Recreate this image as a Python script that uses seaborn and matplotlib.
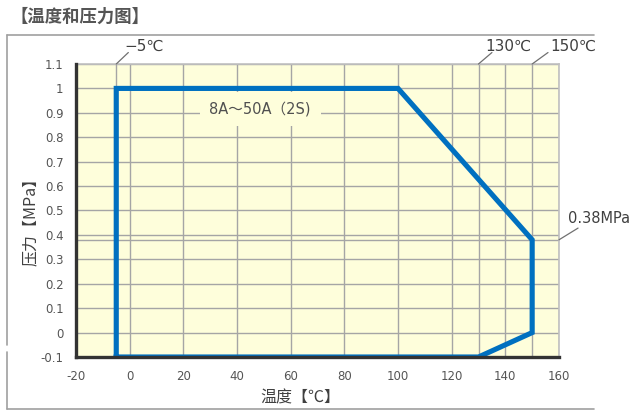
import matplotlib
matplotlib.use("Agg")
import matplotlib.pyplot as plt
from matplotlib.lines import Line2D
import seaborn as sns
import pandas as pd

# ---- data ----
temps = [-5, -5, 100, 150, 150, 130, -5]
pressures = [-0.1, 1.0, 1.0, 0.38, 0.0, -0.1, -0.1]
x_ticks = [-20, 0, 20, 40, 60, 80, 100, 120, 140, 160]
y_ticks = [-0.1, 0, 0.1, 0.2, 0.3, 0.4, 0.5, 0.6, 0.7, 0.8, 0.9, 1.0, 1.1]
y_tick_labels = ["-0.1", "0", "0.1", "0.2", "0.3", "0.4", "0.5", "0.6", "0.7",
                 "0.8", "0.9", "1", "1.1"]
x_tick_labels = [str(v) for v in x_ticks]
extra_vlines = [-5, 130, 150]
extra_hlines = [0.38]
title = "【温度和压力图】"
series_label = "8A～50A（2S)"
x_label = "温度【℃】"
y_label = "压力【MPa】"
annot_temps = [(-5, "−5℃"), (130, "130℃"), (150, "150℃")]
annot_pressure = (0.38, "0.38MPa")

sns.set_theme(style="white")
plt.rcParams['font.family'] = ['Noto Sans CJK SC', 'DejaVu Sans']

fig = plt.figure(figsize=(6.33, 4.18), dpi=100)
ax = fig.add_axes([76/633, 1-357/418, (559-76)/633, (357-64)/418])

bg = "#FEFEDB"
grid_c = "#A5A5A5"
ax.set_facecolor(bg)
ax.set_xlim(-20, 160)
ax.set_ylim(-0.1, 1.1)
ax.set_xticks(x_ticks)
ax.set_xticklabels(x_tick_labels, family=['DejaVu Sans'])
ax.set_yticks(y_ticks)
ax.set_yticklabels(y_tick_labels, family=['DejaVu Sans'])
ax.tick_params(axis='both', length=0, labelsize=8.5, colors="#555555")
ax.tick_params(axis='x', pad=9)
ax.tick_params(axis='y', pad=9)
ax.grid(True, color=grid_c, linewidth=1.0, zorder=1)
ax.set_axisbelow(True)
for v in extra_vlines:
    ax.axvline(v, color=grid_c, linewidth=1.0, zorder=1)
for h in extra_hlines:
    ax.axhline(h, color=grid_c, linewidth=1.0, zorder=1)

for s in ['top', 'right']:
    ax.spines[s].set_color("#C0C0C0")
    ax.spines[s].set_linewidth(1.2)
for s in ['left', 'bottom']:
    ax.spines[s].set_color("#333333")
    ax.spines[s].set_linewidth(2.4)
    ax.spines[s].set_zorder(5)

df = pd.DataFrame({"temp": temps, "pressure": pressures, "order": range(len(temps))})
sns.lineplot(data=df, x="temp", y="pressure", sort=False, estimator=None,
             color="#0070C0", linewidth=3.7, ax=ax, zorder=4)
for l in ax.lines[-1:]:
    l.set_solid_joinstyle('miter')
    l.set_solid_capstyle('projecting')
ax.set_xlabel("")
ax.set_ylabel("")

ax.text(48.6, 0.915, series_label, ha='center', va='center', fontsize=10.5,
        color="#505050", family=['DejaVu Sans', 'Noto Sans CJK SC'], zorder=3,
        bbox=dict(facecolor=bg, edgecolor='none', pad=7))

# leader labels for temperatures
txt_c = "#404040"
offsets = {-5: (-0.5, -1.8), 130: (135.0, 132.4), 150: (155.9, 156.6)}
for t, lab in annot_temps:
    x_end, x_txt = offsets[t]
    ax.plot([t, x_end], [1.1, 1.147], color="#707070", linewidth=0.9, clip_on=False, zorder=6)
    ax.text(x_txt, 1.172, lab, ha='left', va='center', fontsize=11,
            color=txt_c, family=['DejaVu Sans', 'Noto Sans CJK SC'], clip_on=False)

p, plab = annot_pressure
ax.plot([160, 167.1], [p, 0.428], color="#707070", linewidth=0.9, clip_on=False, zorder=6)
ax.text(163.4, 0.466, plab, ha='left', va='center', fontsize=10.5, color=txt_c,
        family=['DejaVu Sans'], clip_on=False)

fig.text(300/633, 1-398/418, x_label, ha='center', va='center', fontsize=11.5, color=txt_c)
fig.text(30/633, 1-218/418, y_label, ha='center', va='center', fontsize=11.5, color=txt_c,
         rotation=90)
fig.text(10/633, 1-17/418, title, ha='left', va='center', fontsize=12.5, color="#555555",
         fontweight='bold')

# outer frame
fc = "#A0A0A0"
fig.add_artist(Line2D([7/633, 594/633], [1-35/418, 1-35/418], color=fc, lw=1.2))
fig.add_artist(Line2D([7/633, 594/633], [1-409/418, 1-409/418], color=fc, lw=1.2))
fig.add_artist(Line2D([7/633, 7/633], [1-35/418, 1-345/418], color=fc, lw=1.2))
fig.add_artist(Line2D([7/633, 7/633], [1-352/418, 1-409/418], color=fc, lw=1.2))

fig.savefig("out.png", dpi=100)
